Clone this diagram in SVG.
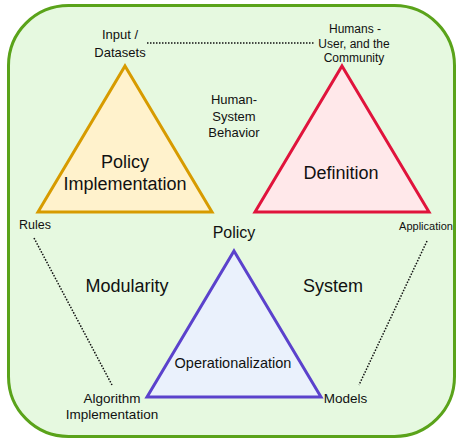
<svg xmlns="http://www.w3.org/2000/svg" width="457" height="439" viewBox="0 0 457 439">
<style>
text{font-family:"Liberation Sans",Arial,sans-serif;fill:#111;text-anchor:middle}
.dot{stroke:#111;stroke-width:1.5;stroke-dasharray:1.5 1.5;fill:none}
.tri{stroke-width:3;stroke-linejoin:miter}
</style>
<rect x="8.5" y="5.5" width="446" height="431" rx="60" ry="60" fill="#e6f9e0" stroke="#5aa31a" stroke-width="3"/>
<g id="connectors">
<line class="dot" x1="147" y1="43" x2="315" y2="43"/>
<line class="dot" x1="34" y1="238" x2="112" y2="385"/>
<line class="dot" x1="427" y1="241" x2="359" y2="385"/>
</g>
<g id="policy-implementation">
<polygon class="tri" points="125,66 212,212 38,212" fill="#fff2cc" stroke="#d79b00"/>
<text x="125" y="168" font-size="18">Policy</text>
<text x="125" y="190" font-size="18">Implementation</text>
</g>
<g id="definition">
<polygon class="tri" points="342,66 429,212 255,212" fill="#ffe8ea" stroke="#e0143c"/>
<text x="341" y="179" font-size="18">Definition</text>
</g>
<g id="operationalization">
<polygon class="tri" points="234,251 321,397 147,397" fill="#eaf1fc" stroke="#5b42cc"/>
<text x="233" y="368" font-size="14.5">Operationalization</text>
</g>
<g id="input-datasets">
<text x="120" y="39" font-size="13">Input /</text>
<text x="120" y="57" font-size="13">Datasets</text>
</g>
<g id="humans">
<text x="355" y="33" font-size="12">Humans -</text>
<text x="354" y="48" font-size="12">User, and the</text>
<text x="354" y="62" font-size="12">Community</text>
</g>
<g id="human-system-behavior">
<text x="234" y="104" font-size="13">Human-</text>
<text x="234" y="121" font-size="13">System</text>
<text x="234" y="137" font-size="13">Behavior</text>
</g>
<g id="rules"><text x="35" y="229" font-size="12.5">Rules</text></g>
<g id="application"><text x="426" y="230" font-size="11">Application</text></g>
<g id="policy"><text x="234" y="238" font-size="16">Policy</text></g>
<g id="modularity"><text x="127" y="292" font-size="18">Modularity</text></g>
<g id="system"><text x="333" y="292" font-size="18">System</text></g>
<g id="algorithm-implementation">
<text x="112" y="403" font-size="13.5">Algorithm</text>
<text x="112" y="419" font-size="13.5">Implementation</text>
</g>
<g id="models"><text x="345.5" y="403" font-size="13.5">Models</text></g>
</svg>
